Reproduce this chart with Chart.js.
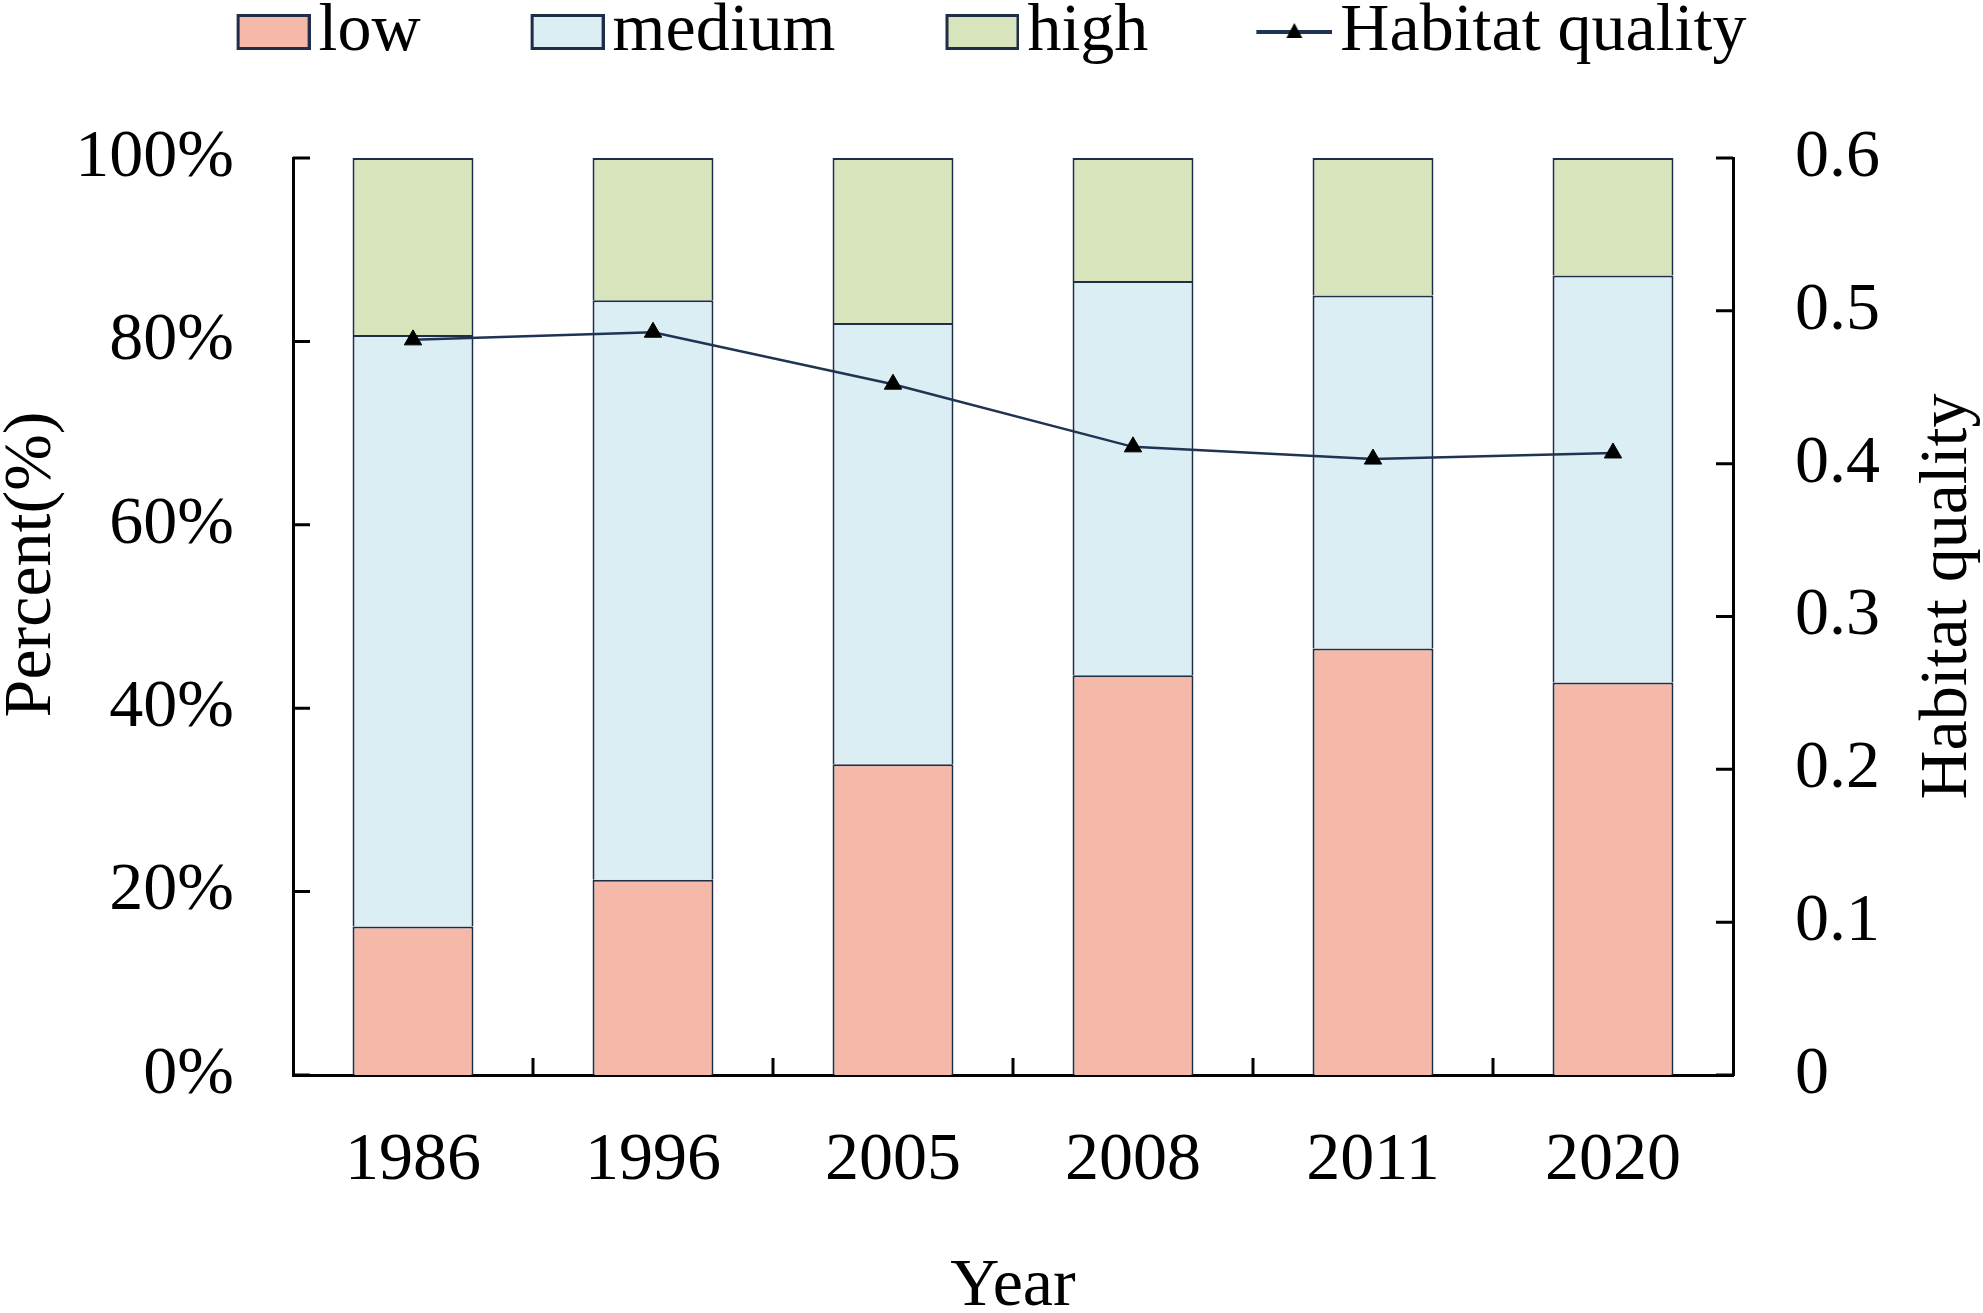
<!DOCTYPE html>
<html>
<head>
<meta charset="utf-8">
<title>Habitat quality</title>
<script src="https://cdn.jsdelivr.net/npm/chart.js@4.4.1/dist/chart.umd.min.js"></script>
<style>
  html, body { margin: 0; padding: 0; background: #fff; }
  #wrap { width: 1983px; height: 1313px; }
</style>
</head>
<body>
<div id="wrap"><canvas id="chart"></canvas></div>
<script>
const years = ["1986", "1996", "2005", "2008", "2011", "2020"];
const low = [16.2, 21.3, 33.9, 43.6, 46.5, 42.8];
const medium = [64.5, 63.2, 48.1, 43.0, 38.5, 44.4];
const high = [19.3, 15.5, 18.0, 13.4, 15.0, 12.8];
const habitatQuality = [0.481, 0.486, 0.452, 0.411, 0.403, 0.407];
const percentTicks = [0, 20, 40, 60, 80, 100];
const qualityTicks = [0, 0.1, 0.2, 0.3, 0.4, 0.5, 0.6];

const EDGE = "#1f2d48";
const LINE = "#1f3352";
const serif = '"Liberation Serif", "Times New Roman", serif';
const font = { family: serif, size: 68, lineHeight: 1 };
const legendGap = 110;

// legend swatches: image centred on a narrow point-style slot, the box
// itself sits on the right so the text follows it closely
function boxIcon(fill) {
    const c = document.createElement("canvas");
    c.width = 100;
    c.height = 38;
    const g = c.getContext("2d");
    g.fillStyle = fill;
    g.fillRect(26, 2, 73, 34);
    g.strokeStyle = EDGE;
    g.lineWidth = 3;
    g.strokeRect(27.5, 2.5, 71, 33);
    return c;
}

function lineIcon() {
    const c = document.createElement("canvas");
    c.width = 100;
    c.height = 38;
    const g = c.getContext("2d");
    g.strokeStyle = LINE;
    g.lineWidth = 4;
    g.beginPath();
    g.moveTo(24, 19);
    g.lineTo(100, 19);
    g.stroke();
    g.fillStyle = "#000";
    g.beginPath();
    g.moveTo(62, 10);
    g.lineTo(70, 25);
    g.lineTo(54, 25);
    g.closePath();
    g.fill();
    return c;
}

const icons = [boxIcon("#f4b9a9"), boxIcon("#daeef3"), boxIcon("#d7e4bc"), lineIcon()];

// Excel-like inward tick marks and the two rotated axis titles
const axisDecor = {
    id: "axisDecor",
    afterDraw(chart) {
        const { ctx, chartArea: area, scales } = chart;
        const len = 17;
        ctx.save();
        ctx.strokeStyle = "#000";
        ctx.lineWidth = 3;
        ctx.beginPath();
        scales.y.ticks.forEach(t => {
            const py = scales.y.getPixelForValue(t.value);
            ctx.moveTo(area.left, py);
            ctx.lineTo(area.left + len, py);
        });
        scales.y2.ticks.forEach(t => {
            const py = scales.y2.getPixelForValue(t.value);
            ctx.moveTo(area.right, py);
            ctx.lineTo(area.right - len, py);
        });
        for (let i = 1; i < years.length; i++) {
            const px = scales.x.getPixelForValue(i - 0.5);
            ctx.moveTo(px, area.bottom);
            ctx.lineTo(px, area.bottom - len);
        }
        ctx.stroke();

        ctx.fillStyle = "#000";
        ctx.font = "68px " + serif;
        ctx.textAlign = "center";
        ctx.textBaseline = "middle";
        const mid = (area.top + area.bottom) / 2;

        ctx.save();
        ctx.translate(scales.y.left + 32, mid - 52);
        ctx.rotate(-Math.PI / 2);
        ctx.fillText("Percent(%)", 0, 0);
        ctx.restore();

        ctx.save();
        ctx.translate(chart.width - 35, mid - 20);
        ctx.rotate(-Math.PI / 2);
        ctx.fillText("Habitat quality", 0, 0);
        ctx.restore();

        ctx.restore();
    }
};

function barSet(label, data, color) {
    return {
        label: label,
        data: data,
        backgroundColor: color,
        borderColor: EDGE,
        borderWidth: 2,
        barPercentage: 0.504,
        categoryPercentage: 1,
        yAxisID: "y",
        order: 1
    };
}

new Chart(document.getElementById("chart"), {
    type: "bar",
    data: {
        labels: years,
        datasets: [
            barSet("low", low, "#f4b9a9"),
            barSet("medium", medium, "#daeef3"),
            barSet("high", high, "#d7e4bc"),
            {
                type: "line",
                label: "Habitat quality",
                data: habitatQuality,
                yAxisID: "y2",
                borderColor: LINE,
                borderWidth: 2.5,
                pointStyle: "triangle",
                pointRadius: 10,
                pointBackgroundColor: "#000",
                pointBorderColor: "#000",
                pointBorderWidth: 1,
                tension: 0,
                order: 0
            }
        ]
    },
    options: {
        responsive: true,
        maintainAspectRatio: false,
        animation: false,
        // the legend padding is wide (gap between entries), so pull it back up
        layout: { padding: { top: -2 - legendGap, right: 0, left: 0, bottom: 0 } },
        plugins: {
            tooltip: { enabled: false },
            legend: {
                position: "top",
                weight: 3000,
                labels: {
                    usePointStyle: true,
                    pointStyleWidth: 48,
                    padding: legendGap,
                    color: "#000",
                    font: font,
                    generateLabels(chart) {
                        return chart.data.datasets.map((ds, i) => ({
                            text: ds.label,
                            pointStyle: icons[i],
                            fillStyle: "#fff",
                            strokeStyle: "#fff",
                            lineWidth: 0,
                            fontColor: "#000",
                            hidden: false,
                            datasetIndex: i
                        }));
                    }
                }
            },
            subtitle: {
                display: true,
                text: "",
                font: { size: 10, lineHeight: 1 },
                padding: { top: 0, bottom: 72 }
            }
        },
        scales: {
            x: {
                stacked: true,
                offset: true,
                grid: { display: false, drawTicks: false },
                border: { display: true, color: "#000", width: 3 },
                ticks: { color: "#000", font: font, padding: 52 },
                title: {
                    display: true,
                    text: "Year",
                    color: "#000",
                    font: { family: serif, size: 68, lineHeight: 0.75 },
                    padding: 0
                },
                afterFit(scale) { scale.height = 238; }
            },
            y: {
                stacked: true,
                position: "left",
                min: 0,
                max: 100,
                grid: { display: false, drawTicks: false },
                border: { display: true, color: "#000", width: 3 },
                afterBuildTicks(scale) { scale.ticks = percentTicks.map(v => ({ value: v })); },
                ticks: { color: "#000", font: font, padding: 59, callback: v => v + "%" },
                afterFit(scale) { scale.width = 293; }
            },
            y2: {
                position: "right",
                min: 0,
                max: 0.6,
                grid: { display: false, drawTicks: false },
                border: { display: true, color: "#000", width: 3 },
                afterBuildTicks(scale) { scale.ticks = qualityTicks.map(v => ({ value: v })); },
                ticks: { color: "#000", font: font, padding: 62, callback: v => String(v) },
                afterFit(scale) { scale.width = 250; }
            }
        }
    },
    plugins: [axisDecor]
});
</script>
</body>
</html>
